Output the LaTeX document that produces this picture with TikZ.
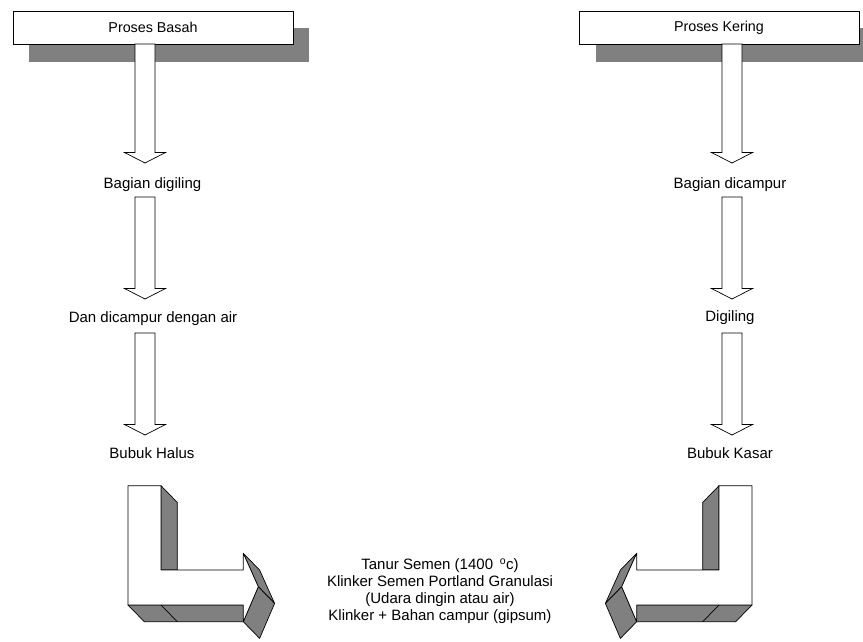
\documentclass[tikz,border=0pt]{standalone}
\usepackage{fontspec}
\setmainfont{Liberation Sans}
\usetikzlibrary{calc,backgrounds}
\definecolor{facegray}{HTML}{808080}
\tikzset{
  procbox/.style={draw=black, line width=0.8pt, fill=white, minimum width=280pt,
    minimum height=33pt, inner sep=0pt, font=\fontsize{14.3}{16}\selectfont},
  boxshadow/.style={fill=facegray},
  lbl/.style={anchor=base, inner sep=0pt, font=\fontsize{15}{17}\selectfont},
  blockarrow/.style={draw=black, line width=0.7pt, fill=white, line join=miter},
  lface/.style={draw=black, line width=0.7pt, fill=facegray, line join=round},
  lfront/.style={draw=black, line width=0.7pt, fill=white, line join=round},
  ldivider/.style={draw=black, line width=0.7pt},
  lturn/.pic={
    \path[lface] (128,605) -- (144.3,621.7) -- (259.6,621.7) -- (243.3,605) -- cycle;
    \path[lface] (161,485.7) -- (177.3,502.4) -- (177.3,570) -- (161,570) -- cycle;
    \path[lface] (243.3,553.3) -- (259.6,570) -- (274.6,603.4) -- (258.3,586.7) -- cycle;
    \path[lface] (258.3,586.7) -- (274.6,603.4) -- (259.6,638.4) -- (243.3,621.7) -- cycle;
    \path[lfront] (128,485.7) -- (161,485.7) -- (161,570) -- (243.3,570) -- (243.3,553.3)
      -- (258.3,586.7) -- (243.3,621.7) -- (243.3,605) -- (128,605) -- cycle;
    \path[ldivider] (161,605) -- (177.3,621.7);
  }
}
\newcommand\blockdown[2]{%
  \draw[blockarrow] ($(#1)+(-10,0)$) -- ($(#1)+(10,0)$) -- ($(#2)+(10,-10.5)$)
    -- ($(#2)+(20.5,-10.5)$) -- (#2) -- ($(#2)+(-20.5,-10.5)$)
    -- ($(#2)+(-10,-10.5)$) -- cycle;}
\begin{document}
\begin{tikzpicture}[x=1pt, y=-1pt]
\useasboundingbox (0,0) rectangle (863,641);

% process boxes
\node[procbox] (basah) at (153,27.5) {Proses Basah};
\node[procbox] (kering) at (719,27.5) {Proses Kering};
\begin{scope}[on background layer]
  \fill[boxshadow] ($(basah.north west)+(16,17)$) rectangle ($(basah.south east)+(16,18)$);
  \fill[boxshadow] ($(kering.north west)+(17,17)$) rectangle (863,62);
\end{scope}

% left column texts
\node[lbl] (t1) at (152.5,188.7) {Bagian digiling};
\node[lbl] (t2) at (153,322) {Dan dicampur dengan air};
\node[lbl] (t3) at (152,458) {Bubuk Halus};

% right column texts
\node[lbl] (r1) at (730,188.7) {Bagian dicampur};
\node[lbl] (r2) at (730,321) {Digiling};
\node[lbl] (r3) at (730,458) {Bubuk Kasar};

% arrow end points
\coordinate (la1s) at (145,44);  \coordinate (la1e) at (145,163);
\coordinate (la2s) at (145,197); \coordinate (la2e) at (145,299);
\coordinate (la3s) at (145,333); \coordinate (la3e) at (145,435);
\coordinate (ra1s) at (732,44);  \coordinate (ra1e) at (732,163);
\coordinate (ra2s) at (732,197); \coordinate (ra2e) at (732,299);
\coordinate (ra3s) at (732,333); \coordinate (ra3e) at (732,435);

\blockdown{la1s}{la1e}
\blockdown{la2s}{la2e}
\blockdown{la3s}{la3e}
\blockdown{ra1s}{ra1e}
\blockdown{ra2s}{ra2e}
\blockdown{ra3s}{ra3e}

% bent 3D arrows
\pic at (0,0) {lturn};
\pic[xscale=-1] at (880,0) {lturn};

% centre text (base anchor = baseline of last line)
\node[lbl, align=center, font=\fontsize{15}{16.7}\selectfont] (tanur) at (440,620)
  {Tanur Semen (1400\ \,\textsuperscript{o}c)\\
   Klinker Semen Portland Granulasi\\
   (Udara dingin atau air)\\
   Klinker + Bahan campur (gipsum)};
\end{tikzpicture}
\end{document}
